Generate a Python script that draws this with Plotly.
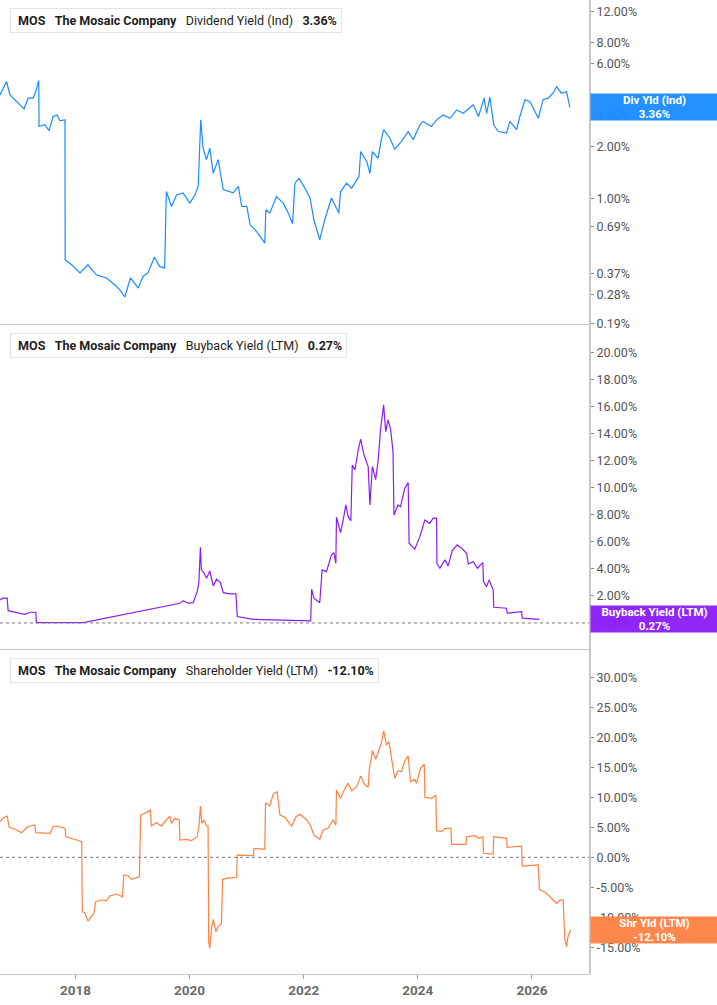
import math
import plotly.graph_objects as go

# MOS - The Mosaic Company: three stacked yield panels

div_dates = ['2016-09-05', '2016-10-17', '2016-11-08', '2016-12-20', '2017-02-06', '2017-03-04',
             '2017-04-05', '2017-04-22', '2017-05-11', '2017-05-13', '2017-06-19', '2017-07-16',
             '2017-08-11', '2017-09-06', '2017-09-23', '2017-10-26', '2017-10-27', '2017-12-08',
             '2018-01-30', '2018-03-22', '2018-05-15', '2018-07-18', '2018-09-10', '2018-10-12',
             '2018-11-13', '2018-12-19', '2019-02-07', '2019-03-09', '2019-04-10', '2019-05-22',
             '2019-06-24', '2019-07-26', '2019-08-06', '2019-09-08', '2019-10-10', '2019-11-21',
             '2020-01-03', '2020-02-05', '2020-02-26', '2020-03-13', '2020-03-28', '2020-04-19',
             '2020-05-10', '2020-06-01', '2020-07-03', '2020-08-04', '2020-10-07', '2020-11-09',
             '2020-11-30', '2021-01-02', '2021-01-23', '2021-03-05', '2021-04-27', '2021-05-04',
             '2021-05-29', '2021-07-11', '2021-08-23', '2021-09-24', '2021-10-22', '2021-11-06',
             '2021-12-03', '2022-01-09', '2022-02-11', '2022-03-07', '2022-04-14', '2022-05-16',
             '2022-06-28', '2022-08-14', '2022-08-25', '2022-10-03', '2022-11-04', '2022-12-21',
             '2023-01-01', '2023-02-09', '2023-03-01', '2023-03-17', '2023-04-22', '2023-05-13',
             '2023-05-28', '2023-07-06', '2023-08-07', '2023-09-19', '2023-11-01', '2023-12-03',
             '2024-01-15', '2024-02-05', '2024-03-29', '2024-05-01', '2024-06-12', '2024-07-25',
             '2024-09-07', '2024-10-19', '2024-12-22', '2025-01-24', '2025-03-01', '2025-03-17',
             '2025-04-07', '2025-05-02', '2025-05-30', '2025-07-23', '2025-08-13', '2025-09-25',
             '2025-10-16', '2025-11-18', '2025-12-20', '2026-02-11', '2026-03-13', '2026-04-15',
             '2026-05-16', '2026-06-08', '2026-07-09', '2026-08-11', '2026-09-01']
div_values = [3.97, 4.74, 3.97, 3.63, 3.30, 3.80,
              3.80, 4.15, 4.80, 2.61, 2.67, 2.47,
              2.98, 3.04, 2.82, 2.85, 0.444, 0.416,
              0.373, 0.416, 0.364, 0.349, 0.319, 0.298,
              0.271, 0.349, 0.305, 0.356, 0.373, 0.461,
              0.407, 0.398, 1.10, 0.902, 1.05, 1.08,
              0.943, 1.05, 1.18, 2.85, 1.96, 1.68,
              1.96, 1.40, 1.68, 1.13, 1.08, 1.18,
              0.902, 0.902, 0.707, 0.647, 0.555, 0.863,
              0.826, 1.03, 0.943, 0.826, 0.717, 1.23,
              1.31, 1.15, 1.01, 0.756, 0.580, 0.756,
              1.01, 0.826, 1.10, 1.23, 1.15, 1.34,
              1.87, 1.64, 1.40, 1.87, 1.71, 2.19,
              2.50, 2.24, 1.93, 2.14, 2.44, 2.19,
              2.67, 2.79, 2.61, 2.85, 3.04, 2.91,
              3.25, 3.11, 3.48, 2.98, 3.80, 3.11,
              3.85, 2.67, 2.44, 2.39, 2.79, 2.50,
              2.98, 3.72, 3.63, 2.91, 3.72, 3.80,
              4.06, 4.43, 4.06, 4.15, 3.36]

bb_dates = ['2016-09-05', '2016-09-22', '2016-10-21', '2016-10-27', '2016-12-20', '2017-02-13',
            '2017-03-17', '2017-04-22', '2017-04-26', '2018-02-20', '2019-11-01', '2019-11-21',
            '2019-12-23', '2020-01-25', '2020-02-19', '2020-03-01', '2020-03-11', '2020-03-17',
            '2020-04-02', '2020-04-19', '2020-05-10', '2020-06-01', '2020-06-22', '2020-07-17',
            '2020-08-04', '2020-09-16', '2020-10-24', '2020-11-02', '2021-02-13', '2021-10-04',
            '2022-02-15', '2022-02-21', '2022-03-07', '2022-04-14', '2022-04-29', '2022-05-27',
            '2022-06-28', '2022-07-13', '2022-07-26', '2022-07-30', '2022-08-25', '2022-09-11',
            '2022-09-28', '2022-10-13', '2022-10-30', '2022-11-08', '2022-11-25', '2022-12-16',
            '2023-01-01', '2023-01-22', '2023-02-18', '2023-03-01', '2023-03-17', '2023-04-07',
            '2023-04-22', '2023-05-09', '2023-05-28', '2023-06-10', '2023-06-25', '2023-07-12',
            '2023-07-27', '2023-08-02', '2023-08-28', '2023-09-13', '2023-10-10', '2023-11-01',
            '2023-11-07', '2023-12-13', '2024-01-15', '2024-02-16', '2024-03-18', '2024-04-09',
            '2024-05-01', '2024-05-03', '2024-05-22', '2024-06-23', '2024-07-14', '2024-08-09',
            '2024-09-10', '2024-10-08', '2024-11-09', '2024-11-20', '2024-12-22', '2025-01-17',
            '2025-02-21', '2025-02-25', '2025-03-17', '2025-04-02', '2025-04-28', '2025-05-02',
            '2025-07-23', '2025-07-27', '2025-10-27', '2025-10-31', '2026-02-18']
bb_values = [1.70, 1.83, 1.83, 0.91, 0.76, 0.64,
             0.79, 0.79, 0.02, 0.02, 1.46, 1.65,
             1.46, 1.50, 2.32, 2.94, 5.61, 3.93,
             3.73, 3.31, 3.85, 2.74, 3.24, 2.99,
             2.24, 2.15, 2.15, 0.47, 0.27, 0.17,
             0.15, 2.50, 1.83, 1.50, 3.93, 3.80,
             5.04, 5.21, 4.42, 7.83, 6.69, 7.63,
             8.74, 7.87, 7.58, 11.70, 11.33, 12.81,
             13.61, 12.44, 11.58, 8.74, 11.58, 10.64,
             11.95, 14.42, 16.15, 14.17, 15.04, 14.30,
             12.69, 8.00, 8.74, 8.61, 9.98, 10.39,
             5.90, 5.46, 6.39, 7.63, 7.38, 7.76,
             7.76, 4.37, 4.05, 4.67, 4.22, 5.36,
             5.78, 5.53, 5.16, 4.37, 4.54, 4.05,
             4.47, 3.06, 2.69, 3.19, 2.44, 1.16,
             1.09, 0.72, 0.84, 0.35, 0.27]

shy_dates = ['2016-09-05', '2016-09-26', '2016-10-21', '2016-11-03', '2016-12-09', '2017-01-22',
             '2017-02-27', '2017-04-16', '2017-04-22', '2017-07-21', '2017-08-11', '2017-09-06',
             '2017-10-26', '2017-11-01', '2018-01-09', '2018-02-10', '2018-02-14', '2018-03-01',
             '2018-03-22', '2018-04-30', '2018-05-10', '2018-06-16', '2018-07-18', '2018-08-09',
             '2018-09-21', '2018-10-29', '2018-11-07', '2018-12-04', '2018-12-26', '2019-02-14',
             '2019-02-23', '2019-03-20', '2019-04-26', '2019-05-02', '2019-06-03', '2019-07-05',
             '2019-08-06', '2019-08-28', '2019-09-08', '2019-09-29', '2019-10-27', '2019-11-01',
             '2019-12-13', '2020-01-14', '2020-02-19', '2020-03-02', '2020-03-11', '2020-03-19',
             '2020-04-02', '2020-04-19', '2020-04-29', '2020-05-03', '2020-05-10', '2020-05-21',
             '2020-06-01', '2020-06-18', '2020-07-03', '2020-07-24', '2020-07-31', '2020-08-26',
             '2020-10-29', '2020-11-02', '2021-02-13', '2021-02-17', '2021-04-27', '2021-05-02',
             '2021-05-29', '2021-06-20', '2021-07-15', '2021-08-02', '2021-09-03', '2021-10-16',
             '2021-11-13', '2021-12-08', '2022-01-20', '2022-02-15', '2022-03-07', '2022-04-14',
             '2022-05-05', '2022-06-06', '2022-07-08', '2022-07-26', '2022-07-30', '2022-08-25',
             '2022-09-22', '2022-10-13', '2022-11-04', '2022-12-06', '2023-01-01', '2023-01-28',
             '2023-02-18', '2023-02-25', '2023-03-17', '2023-04-07', '2023-04-28', '2023-05-13',
             '2023-05-28', '2023-06-15', '2023-07-01', '2023-07-16', '2023-08-07', '2023-08-28',
             '2023-09-19', '2023-10-10', '2023-11-01', '2023-11-16', '2023-12-13', '2023-12-24',
             '2024-01-19', '2024-02-12', '2024-02-16', '2024-03-29', '2024-04-26', '2024-05-01',
             '2024-06-02', '2024-06-23', '2024-08-01', '2024-08-05', '2024-11-05', '2024-11-09',
             '2025-01-02', '2025-01-24', '2025-02-21', '2025-02-25', '2025-04-28', '2025-05-02',
             '2025-07-23', '2025-07-27', '2025-10-27', '2025-10-31', '2026-02-11', '2026-02-18',
             '2026-03-13', '2026-04-04', '2026-05-06', '2026-06-08', '2026-06-29', '2026-07-20',
             '2026-07-31', '2026-08-11', '2026-08-21', '2026-09-06']
shy_values = [5.93, 6.60, 6.88, 5.00, 4.67, 4.10,
              5.10, 5.38, 4.10, 4.00, 5.10, 5.22,
              4.83, 3.43, 2.88, 2.60, -9.07, -9.23,
              -10.62, -9.23, -7.40, -7.12, -7.23, -6.45,
              -6.12, -6.57, -2.95, -3.12, -3.67, -3.23,
              7.05, 7.33, 7.88, 5.22, 5.77, 5.22,
              6.22, 6.88, 5.67, 6.50, 6.22, 2.88,
              3.00, 2.77, 3.43, 5.22, 8.55, 5.67,
              6.22, 5.22, 5.22, -14.07, -15.17, -11.83,
              -10.33, -12.40, -11.45, -11.00, -3.67, -3.50,
              -3.33, 0.38, 0.27, 1.50, 1.33, 9.10,
              8.55, 10.55, 10.93, 7.05, 6.67, 5.22,
              6.77, 7.17, 6.22, 5.22, 3.72, 3.00,
              4.55, 4.83, 6.22, 5.38, 11.22, 9.83,
              11.50, 12.33, 11.10, 11.77, 13.55, 12.05,
              11.67, 14.55, 17.77, 16.33, 17.88, 19.00,
              21.10, 18.72, 19.27, 17.05, 13.17, 14.43,
              14.27, 16.10, 16.88, 12.60, 13.00, 12.33,
              14.83, 15.55, 10.00, 9.83, 10.38, 4.43,
              4.27, 4.83, 4.83, 2.17, 2.17, 3.43,
              3.60, 3.17, 3.43, 0.67, 0.55, 3.43,
              3.17, 1.67, 1.88, -1.45, -1.28, -5.33,
              -5.73, -6.00, -6.83, -7.67, -7.12, -7.12,
              -13.50, -14.90, -13.12, -12.10]

div_ticks = [12, 8, 6, 3, 2, 1, 0.69, 0.37, 0.28, 0.19]
bb_ticks = [0, 2, 4, 6, 8, 10, 12, 14, 16, 18, 20]
shy_ticks = [-15, -10, -5, 0, 5, 10, 15, 20, 25, 30]
year_ticks = ['2018-01-01', '2020-01-01', '2022-01-01', '2024-01-01', '2026-01-01']
year_labels = ['2018', '2020', '2022', '2024', '2026']

BLUE = '#1a8cff'
PURPLE = '#8c1cf7'
ORANGE = '#ff8142'
FONT = 'Roboto'

panels = [
    # (dates, values, color, legend name, badge name, yaxis id, domain)
    (div_dates, div_values, BLUE, 'Dividend Yield (Ind)', 'Div Yld (Ind)', 'y', [0.6674, 1.0]),
    (bb_dates, bb_values, PURPLE, 'Buyback Yield (LTM)', 'Buyback Yield (LTM)', 'y2', [0.3337, 0.6663]),
    (shy_dates, shy_values, ORANGE, 'Shareholder Yield (LTM)', 'Shr Yld (LTM)', 'y3', [0.0, 0.3326]),
]

fig = go.Figure()
annotations = []
shapes = []

for i, (dates, vals, color, name, badge, yid, dom) in enumerate(panels):
    xid = 'x' if i == 0 else 'x%d' % (i + 1)
    fig.add_trace(go.Scatter(x=dates, y=vals, mode='lines', xaxis=xid, yaxis=yid,
                             line=dict(color=color, width=1.2), showlegend=False))
    last = vals[-1]
    # legend box top-left
    annotations.append(dict(
        xref='paper', yref=yid + ' domain', x=0.017, y=1, xanchor='left', yanchor='top', yshift=-8,
        text='&nbsp;<b>MOS</b>&nbsp;&nbsp;&nbsp;<b>The Mosaic Company</b>&nbsp;&nbsp;&nbsp;%s&nbsp;&nbsp;&nbsp;<b>%.2f%%</b>' % (name, last),
        showarrow=False, font=dict(family=FONT, size=12.5, color='#1e1e1e'),
        bgcolor='white', bordercolor='#e3e3e3', borderwidth=1, borderpad=4))
    shapes.append(dict(type='rect', xref='paper', yref=yid + ' domain',
                       x0=0.017, x1=0.0225, y0=0.898, y1=0.974,
                       fillcolor=color, line=dict(width=0)))
    # value badge on the right axis
    ypos = math.log10(last) if i == 0 else last
    annotations.append(dict(
        xref='paper', yref=yid, x=1, y=ypos, xanchor='left', yanchor='middle',
        text='<b>%s</b><br><b>%.2f%%</b>' % (badge, last), showarrow=False,
        width=127, height=26, bgcolor=color, opacity=0.95, borderpad=0,
        font=dict(family=FONT, size=11.5, color='white')))

# zero reference lines
for yid in ['y2', 'y3']:
    shapes.append(dict(type='line', xref='paper', yref=yid, x0=0, x1=1, y0=0, y1=0,
                       line=dict(color='#7a7a7a', width=1, dash='dot')))
# right axis line
shapes.append(dict(type='line', xref='paper', yref='paper', x0=1, x1=1, y0=0, y1=1,
                   line=dict(color='#b5b5b5', width=1.5)))

xcommon = dict(type='date', range=['2016-09-05', '2027-01-08'], showgrid=False, zeroline=False,
               showline=True, linecolor='#c8c8c8', linewidth=1,
               tickvals=year_ticks, ticktext=year_labels)
ycommon = dict(side='right', showgrid=False, zeroline=False, showline=False,
               ticks='outside', ticklen=3, tickcolor='#8a8a8a', ticklabelstandoff=0,
               tickfont=dict(family=FONT, size=12.5, color='#555555'))

fig.update_layout(
    width=717, height=1005,
    margin=dict(l=0, r=127, t=0, b=31),
    paper_bgcolor='white', plot_bgcolor='white',
    showlegend=False,
    xaxis=dict(xcommon, anchor='y', showticklabels=False, ticks=''),
    xaxis2=dict(xcommon, anchor='y2', matches='x', showticklabels=False, ticks=''),
    xaxis3=dict(xcommon, anchor='y3', matches='x', ticks='outside', ticklen=4, tickcolor='#9a9a9a',
                tickfont=dict(family=FONT, size=13.5, color='#6b6b6b', weight=700)),
    yaxis=dict(ycommon, domain=panels[0][6], anchor='x', type='log',
               range=[math.log10(0.1895), math.log10(14.0)],
               tickvals=div_ticks, ticktext=['%.2f%%' % v for v in div_ticks]),
    yaxis2=dict(ycommon, domain=panels[1][6], anchor='x2', range=[-1.93, 22.07],
                tickvals=bb_ticks, ticktext=['%.2f%%' % v for v in bb_ticks]),
    yaxis3=dict(ycommon, domain=panels[2][6], anchor='x3', range=[-19.45, 34.55],
                tickvals=shy_ticks, ticktext=['%.2f%%' % v for v in shy_ticks]),
    annotations=annotations,
    shapes=shapes,
)

# the page's default body margin would shift the fixed-size figure
fig.write_html("out.html", config={'displayModeBar': False},
               post_script="document.body.style.margin='0';")
